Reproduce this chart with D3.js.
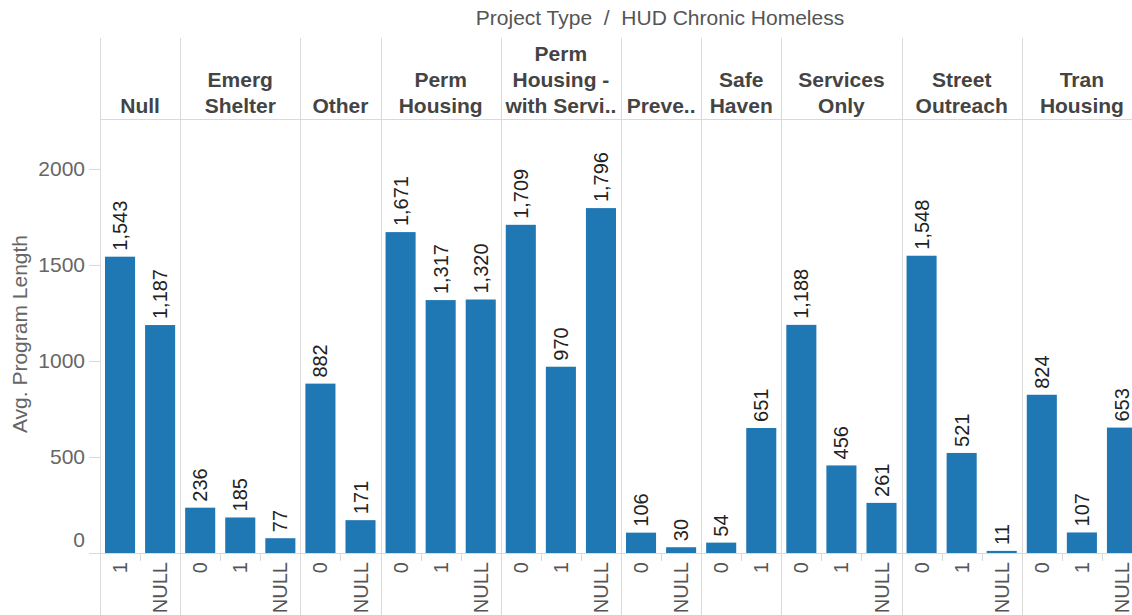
<!DOCTYPE html>
<html>
<head>
<meta charset="utf-8">
<script src="https://cdn.jsdelivr.net/npm/d3@7"></script>
<style>
  body { margin: 0; background: #fff; }
  text { font-family: "Liberation Sans", Arial, sans-serif; }
</style>
</head>
<body>
<svg class="chart"></svg>
<script>
// data
const projectTypes = ['Null', 'Emerg Shelter', 'Other', 'Perm Housing', 'Perm Housing - with Servi..',
    'Preve..', 'Safe Haven', 'Services Only', 'Street Outreach', 'Tran Housing'];
const headerLines = [['Null'], ['Emerg', 'Shelter'], ['Other'], ['Perm', 'Housing'],
    ['Perm', 'Housing -', 'with Servi..'], ['Preve..'], ['Safe', 'Haven'], ['Services', 'Only'],
    ['Street', 'Outreach'], ['Tran', 'Housing']];
const hudGroups = [['1', 'NULL'], ['0', '1', 'NULL'], ['0', 'NULL'], ['0', '1', 'NULL'], ['0', '1', 'NULL'],
    ['0', 'NULL'], ['0', '1'], ['0', '1', 'NULL'], ['0', '1', 'NULL'], ['0', '1', 'NULL']];
const avgLength = [[1543, 1187], [236, 185, 77], [882, 171], [1671, 1317, 1320], [1709, 970, 1796],
    [106, 30], [54, 651], [1188, 456, 261], [1548, 521, 11], [824, 107, 653]];
const yTicks = [0, 500, 1000, 1500, 2000];

// Set up SVG dimensions
const svgWidth = 1132;
const svgHeight = 615;
const plotLeft = 100, plotRight = 1142;
const headerTop = 38, headerBottom = 119, zeroY = 553;
const gridColor = '#d9d9d9';
const barColor = '#1f77b4';

const svg = d3.select('.chart')
    .attr('width', svgWidth)
    .attr('height', svgHeight);

// flatten into one row per bar
const rows = [];
projectTypes.forEach((p, i) => {
    hudGroups[i].forEach((h, j) => {
        rows.push({ type: p, pane: i, hud: h, value: avgLength[i][j], key: p + '|' + h });
    });
});

const xScale = d3.scaleBand()
    .domain(rows.map(d => d.key))
    .range([plotLeft, plotRight])
    .paddingInner(0.25)
    .paddingOuter(0.125);

const yScale = d3.scaleLinear()
    .domain([0, 2260])
    .range([zeroY, headerBottom]);

const step = xScale.step();
const half = step * 0.125;

// pane extents
const panes = projectTypes.map((p, i) => {
    const first = p + '|' + hudGroups[i][0];
    const left = xScale(first) - half;
    return { i: i, left: left, right: left + hudGroups[i].length * step };
});

const crisp = v => Math.round(v) + 0.5;

// title
svg.append('text')
    .attr('x', 660)
    .attr('y', 25)
    .attr('text-anchor', 'middle')
    .attr('fill', '#555')
    .style('font-size', '21px')
    .text('Project Type \u00a0/\u00a0 HUD Chronic Homeless');

// header line + pane dividers
svg.append('line')
    .attr('x1', plotLeft).attr('x2', svgWidth)
    .attr('y1', crisp(headerBottom)).attr('y2', crisp(headerBottom))
    .attr('stroke', gridColor);

svg.append('line')
    .attr('x1', 89).attr('x2', svgWidth)
    .attr('y1', crisp(zeroY)).attr('y2', crisp(zeroY))
    .attr('stroke', gridColor);

svg.selectAll('.divider')
    .data(panes)
    .enter().append('line')
    .attr('class', 'divider')
    .attr('x1', d => crisp(d.left)).attr('x2', d => crisp(d.left))
    .attr('y1', headerTop).attr('y2', svgHeight)
    .attr('stroke', gridColor);

// small ticks between sub columns
const innerTicks = rows.filter((d, k) => k > 0 && rows[k - 1].pane === d.pane);
svg.selectAll('.subtick')
    .data(innerTicks)
    .enter().append('line')
    .attr('class', 'subtick')
    .attr('x1', d => crisp(xScale(d.key) - half)).attr('x2', d => crisp(xScale(d.key) - half))
    .attr('y1', zeroY).attr('y2', zeroY + 8)
    .attr('stroke', gridColor);

// pane headers
panes.forEach(pn => {
    const lines = headerLines[pn.i];
    const t = svg.append('text')
        .attr('text-anchor', 'middle')
        .attr('fill', '#444')
        .style('font-size', '21px')
        .style('font-weight', 'bold');
    lines.forEach((ln, k) => {
        t.append('tspan')
            .attr('x', (pn.left + pn.right) / 2)
            .attr('y', 113 - (lines.length - 1 - k) * 26)
            .text(ln);
    });
});

// y axis
const yAxis = svg.append('g')
    .attr('transform', `translate(${plotLeft}, 0)`)
    .call(d3.axisLeft(yScale).tickValues(yTicks).tickSize(11).tickPadding(4).tickFormat(d3.format('d')));
yAxis.select('.domain').remove();
yAxis.selectAll('line').attr('stroke', gridColor);
yAxis.selectAll('text')
    .attr('fill', '#666')
    .style('font-size', '21px')
    .style('font-family', '"Liberation Sans", Arial, sans-serif');
// tableau keeps the 0 label inside the pane
yAxis.selectAll('.tick').filter(d => d === 0).select('text').attr('y', -13);

svg.append('text')
    .attr('transform', 'translate(27, 334) rotate(-90)')
    .attr('text-anchor', 'middle')
    .attr('fill', '#666')
    .style('font-size', '21px')
    .text('Avg. Program Length');

// bars
svg.selectAll('.bar')
    .data(rows)
    .enter().append('rect')
    .attr('class', 'bar')
    .attr('x', d => xScale(d.key))
    .attr('width', xScale.bandwidth())
    .attr('y', d => yScale(d.value))
    .attr('height', d => yScale(0) - yScale(d.value))
    .attr('fill', barColor);

// value labels
svg.selectAll('.val')
    .data(rows)
    .enter().append('text')
    .attr('class', 'val')
    .attr('transform', d => `translate(${xScale(d.key) + xScale.bandwidth() / 2}, ${yScale(d.value) - 6}) rotate(-90)`)
    .attr('dy', '0.35em')
    .attr('fill', '#222')
    .style('font-size', '20px')
    .text(d => d3.format(',')(d.value));

// hud labels under the axis
svg.selectAll('.hud')
    .data(rows)
    .enter().append('text')
    .attr('class', 'hud')
    .attr('transform', d => `translate(${xScale(d.key) + xScale.bandwidth() / 2}, 562) rotate(-90)`)
    .attr('dy', '0.35em')
    .attr('text-anchor', 'end')
    .attr('fill', '#555')
    .style('font-size', '20px')
    .text(d => d.hud);
</script>
</body>
</html>
